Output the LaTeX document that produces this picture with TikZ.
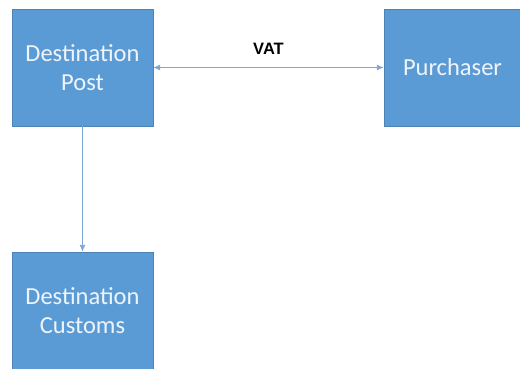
\documentclass[tikz,border=0pt]{standalone}
\usepackage{fontspec}
\setmainfont{Carlito}
\newfontfamily\labelfont{Liberation Sans}
\usetikzlibrary{arrows.meta}
\definecolor{boxblue}{HTML}{5B9BD5}
\definecolor{linkblue}{HTML}{7DA7D4}
\definecolor{boxtext}{HTML}{EEF4FB}
\tikzset{
	party/.style={fill=boxblue, draw=boxblue!85!black, line width=0.4pt, text=boxtext, align=center, inner sep=0pt, font=\fontsize{24.5}{29}\selectfont},
	link/.style={draw=linkblue, line width=0.9pt, -{Latex[length=7pt,width=6pt]}}
}

\begin{document}
\begin{tikzpicture}[x=1pt, y=1pt]
			%%%%% START %%%%%
			\useasboundingbox (0, 0) rectangle (520, -368);
			
			\node[party, minimum width=141, minimum height=117] (post) at (82.5, -67.5) {Destination\\Post};
			\node[party, minimum width=137, minimum height=117] (purchaser) at (452.5, -67.5) {Purchaser};
			\node[party, minimum width=141, minimum height=117] (customs) at (82.5, -310.5) {Destination\\Customs};
			
			\draw[link, {Latex[length=7pt,width=6pt]}-{Latex[length=7pt,width=6pt]}] (post) -- node[above=9pt, text=black, font=\labelfont\bfseries\fontsize{16.5}{18}\selectfont] (vat) {VAT} (purchaser);
			\draw[link] (post) -- (customs);
			
			%%%%% END %%%%%
\end{tikzpicture}
\end{document}
